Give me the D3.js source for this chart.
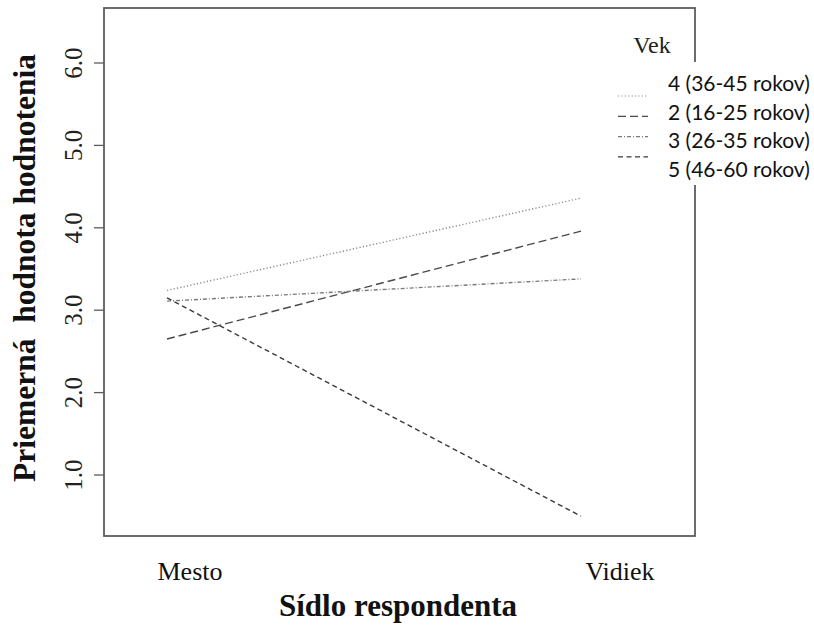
<!DOCTYPE html>
<html>
<head>
<meta charset="utf-8">
<script src="https://cdn.jsdelivr.net/npm/d3@7"></script>
<style>
  html, body { margin: 0; padding: 0; background: #fff; }
  svg { display: block; }
</style>
</head>
<body>
<svg id="chart" width="814" height="629"></svg>
<script>
// Interaction plot: mean rating by place of residence, one line per age group
const categories = ["Mesto", "Vidiek"];
const groups = ["4 (36-45 rokov)", "2 (16-25 rokov)", "3 (26-35 rokov)", "5 (46-60 rokov)"];
const meanMesto  = [3.24, 2.65, 3.11, 3.15];
const meanVidiek = [4.36, 3.96, 3.38, 0.50];
const yTicks = [1, 2, 3, 4, 5, 6];
const yTickLabels = ["1.0", "2.0", "3.0", "4.0", "5.0", "6.0"];
const legendTitle = "Vek";
const xTitle = "Sídlo respondenta";
const yTitle = "Priemerná  hodnota hodnotenia";

const dashes = ["1.2 2.2", "8 4", "4 2 1 2", "5 3.5"];
const colors = ["#8a8a8a", "#4a4a4a", "#7a7a7a", "#3a3a3a"];

const svg = d3.select("#chart");
const box = { left: 104, right: 695, top: 8, bottom: 536 };

const y = d3.scaleLinear().domain([1, 6]).range([475, 63]);
const x = d3.scalePoint().domain(categories).range([167, 581]);
const xLab = d3.scalePoint().domain(categories).range([190, 620]);

const serif = "'Liberation Serif', 'Times New Roman', serif";

// plot frame
svg.append("rect")
  .attr("x", box.left).attr("y", box.top)
  .attr("width", box.right - box.left).attr("height", box.bottom - box.top)
  .attr("fill", "none").attr("stroke", "#5c5c5c").attr("stroke-width", 1.8);

// y axis ticks and rotated labels
const yAxis = svg.append("g");
yAxis.selectAll("line").data(yTicks).join("line")
  .attr("x1", box.left - 10).attr("x2", box.left)
  .attr("y1", d => y(d)).attr("y2", d => y(d))
  .attr("stroke", "#5c5c5c").attr("stroke-width", 1.3);
yAxis.selectAll("text").data(yTicks).join("text")
  .attr("transform", d => `translate(82,${y(d)}) rotate(-90)`)
  .attr("text-anchor", "middle")
  .attr("font-family", serif).attr("font-size", 25).attr("fill", "#222")
  .text((d, i) => yTickLabels[i]);

// x category labels
svg.append("g").selectAll("text").data(categories).join("text")
  .attr("x", d => xLab(d)).attr("y", 580)
  .attr("text-anchor", "middle")
  .attr("font-family", serif).attr("font-size", 26).attr("fill", "#111")
  .text(d => d);

// axis titles
svg.append("text")
  .attr("x", 398).attr("y", 616)
  .attr("text-anchor", "middle")
  .attr("font-family", serif).attr("font-weight", "bold").attr("font-size", 31)
  .attr("fill", "#111")
  .text(xTitle);
svg.append("text")
  .attr("transform", "translate(35,268) rotate(-90)")
  .attr("text-anchor", "middle")
  .attr("font-family", serif).attr("font-weight", "bold").attr("font-size", 31.5)
  .attr("fill", "#111")
  .style("white-space", "pre")
  .text(yTitle);

// group lines
const series = groups.map((g, i) => ({ g, i, values: [meanMesto[i], meanVidiek[i]] }));
const line = d3.line().x((d, j) => x(categories[j])).y(d => y(d));
svg.append("g").selectAll("path").data(series).join("path")
  .attr("d", s => line(s.values))
  .attr("fill", "none")
  .attr("stroke", s => colors[s.i])
  .attr("stroke-width", 1.4)
  .attr("stroke-dasharray", s => dashes[s.i]);

// legend panel (covers the frame on the right)
const leg = svg.append("g");
leg.append("rect")
  .attr("x", 610).attr("y", 62).attr("width", 204).attr("height", 123)
  .attr("fill", "#fff");
leg.append("text")
  .attr("x", 652).attr("y", 53)
  .attr("text-anchor", "middle")
  .attr("font-family", serif).attr("font-size", 24).attr("fill", "#222")
  .text(legendTitle);
leg.selectAll("line").data(series).join("line")
  .attr("x1", 618).attr("x2", 648)
  .attr("y1", s => 96 + s.i * 20.3).attr("y2", s => 96 + s.i * 20.3)
  .attr("stroke", s => colors[s.i]).attr("stroke-width", 1.2)
  .attr("stroke-dasharray", s => dashes[s.i]);
leg.selectAll("text.item").data(series).join("text")
  .attr("class", "item")
  .attr("x", 668).attr("y", s => 91 + s.i * 28.7)
  .attr("font-family", "Lato, 'Open Sans', sans-serif").attr("font-size", 21)
  .attr("fill", "#111")
  .text(s => s.g);
</script>
</body>
</html>
